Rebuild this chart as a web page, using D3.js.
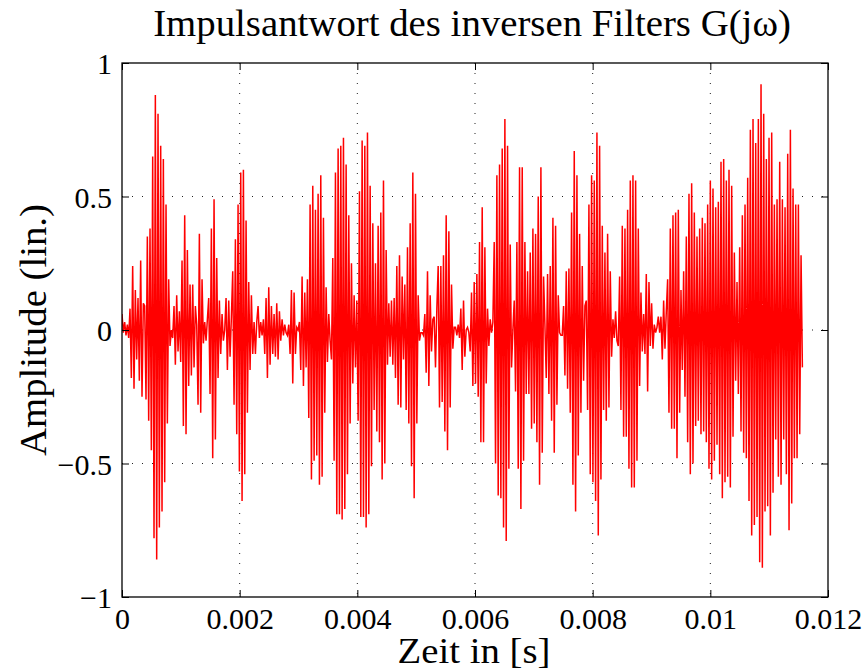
<!DOCTYPE html>
<html>
<head>
<meta charset="utf-8">
<script src="https://cdn.jsdelivr.net/npm/d3@7/dist/d3.min.js"></script>
<style>
  html, body { margin: 0; padding: 0; background: #fff; }
  svg { display: block; }
  text { font-family: "Liberation Serif", "Times New Roman", serif; fill: #000; }
</style>
</head>
<body>
<script>
// ---------------- data ----------------
const titleText = "Impulsantwort des inversen Filters G(jω)";
const xLabelText = "Zeit in [s]";
const yLabelText = "Amplitude (lin.)";
const sampleRate = 44100; // Hz
const xTicks = [0, 0.002, 0.004, 0.006, 0.008, 0.01, 0.012];
const xTickLabels = ["0", "0.002", "0.004", "0.006", "0.008", "0.01", "0.012"];
const yTicks = [-1, -0.5, 0, 0.5, 1];
const yTickLabels = ["\u22121", "\u22120.5", "0", "0.5", "1"];
// impulse response samples
const amplitude = [
  0.06, -0.01, 0.03, -0.02, 0.02, -0.03, 0.08, -0.18, 0.24, -0.22,
  0.15, -0.11, 0.12, -0.19, 0.26, -0.25, 0.10, 0.09, -0.26, 0.35,
  -0.34, 0.38, -0.45, 0.65, -0.78, 0.88, -0.86, 0.81, -0.74, 0.69,
  -0.68, 0.64, -0.57, 0.47, -0.35, 0.19, -0.06, 0.00, -0.03, 0.09,
  -0.13, 0.13, -0.08, 0.07, -0.12, 0.26, -0.36, 0.43, -0.39, 0.30,
  -0.21, 0.17, -0.17, 0.17, -0.14, 0.09, 0.02, -0.28, 0.36, -0.31,
  0.19, -0.05, 0.03, -0.04, 0.04, 0.12, -0.24, 0.38, -0.48, 0.49,
  -0.41, 0.27, -0.18, 0.11, -0.09, 0.06, -0.04, 0.00, 0.12, -0.15,
  0.11, -0.10, 0.05, 0.22, -0.28, 0.34, -0.39, 0.47, -0.53, 0.59,
  -0.64, 0.60, -0.54, 0.41, -0.31, 0.18, -0.15, 0.13, -0.09, 0.03,
  -0.09, 0.03, 0.09, -0.03, 0.03, -0.02, 0.04, -0.09, 0.12, -0.18,
  0.16, -0.13, 0.09, -0.09, 0.06, -0.10, 0.10, -0.11, 0.07, -0.04,
  0.04, -0.02, 0.02, -0.01, -0.02, 0.02, -0.09, 0.15, -0.20, 0.14, -0.09,
  0.01, 0.00, 0.03, -0.15, 0.20, -0.21, 0.14, -0.14, 0.19, -0.33,
  0.47, -0.56, 0.54, -0.49, 0.45, -0.47, 0.51, -0.58, 0.58, -0.55,
  0.42, -0.31, 0.16, -0.12, 0.06, -0.04, -0.11, 0.27, -0.49, 0.59,
  -0.69, 0.68, -0.69, 0.69, -0.71, 0.72, -0.67, 0.62, -0.54, 0.43,
  -0.35, 0.25, -0.20, 0.13, -0.14, 0.11, -0.34, 0.52, -0.70, 0.71,
  -0.70, 0.69, -0.74, 0.74, -0.69, 0.54, -0.51, 0.40, -0.30, 0.25,
  -0.38, 0.39, -0.42, 0.44, -0.56, 0.56, -0.50, 0.30, -0.13, 0.10,
  -0.10, 0.11,
  -0.13, 0.12, -0.18, 0.24, -0.28, 0.28, -0.29, 0.20, -0.11, 0.17,
  -0.30, 0.31, -0.35, 0.40, -0.51, 0.59, -0.63, 0.51, -0.35, 0.13,
  -0.04, -0.01, -0.01, -0.02, 0.06, -0.16, 0.22, -0.21, 0.13, -0.08,
  0.04, 0.05, -0.14, 0.08, 0.24, -0.29, 0.24, -0.27, 0.28, -0.38,
  0.43, -0.45, 0.37, -0.29, 0.17, -0.07, 0.01, 0.01, -0.02, 0.02,
  -0.03, 0.08, -0.15, 0.11, -0.10, 0.00, 0.01, -0.01, -0.08, 0.14,
  -0.21, 0.18, -0.20, 0.21, -0.25, 0.33, -0.42, 0.46, -0.42, 0.31,
  -0.20, 0.08, -0.06, 0.04, -0.01, 0.03, 0.33, -0.50, 0.58, -0.62,
  0.62, -0.63, 0.68, -0.74, 0.79, -0.79, 0.69, -0.52, 0.32, -0.14,
  0.00, 0.11, -0.23, 0.33, -0.52, 0.61, -0.67, 0.61, -0.49, 0.33,
  -0.24, 0.22, -0.24, 0.29, -0.37, 0.38, -0.35, 0.36, -0.42, 0.50,
  -0.58, 0.61, -0.46, 0.20, 0.02, -0.18, 0.21, -0.24, 0.24, -0.34,
  0.42, -0.46, 0.39, -0.28, 0.13, -0.01, -0.02, -0.02, 0.09, -0.17,
  0.22, -0.22, 0.23, -0.31, 0.44, -0.58, 0.67, -0.68, 0.58, -0.47,
  0.36, -0.31, 0.24, -0.19, 0.09, 0.11, -0.30, 0.47, -0.54, 0.58,
  -0.57, 0.56, -0.64, 0.74, -0.77, 0.69, -0.56, 0.39, -0.30, 0.29,
  -0.34, 0.36, -0.29, 0.22, -0.10, 0.04, -0.03, 0.07, -0.04, -0.06,
  0.20, -0.30, 0.39, -0.40, 0.38, -0.40, 0.45, -0.52, 0.56, -0.59,
  0.58, -0.59, 0.56, -0.49, 0.38, -0.21, 0.14, -0.08, 0.06, -0.09,
  0.21, -0.23, 0.18, -0.06, 0.10, -0.07, 0.02, -0.01, 0.01, 0.05, -0.01,
  0.05, -0.11, 0.11, -0.07, 0.07, 0.19, -0.31, 0.38, -0.37, 0.43,
  -0.37, 0.44, -0.48, 0.45, -0.31, 0.15, -0.15, 0.22, -0.25, 0.35,
  -0.42, 0.51, -0.54, 0.55, -0.50, 0.44, -0.36, 0.35, -0.34, 0.38,
  -0.39, 0.42, -0.38, 0.40, -0.42, 0.47, -0.52, 0.56, -0.56, 0.53,
  -0.49, 0.46, -0.43, 0.48, -0.54, 0.63, -0.63, 0.64, -0.57, 0.56,
  -0.55, 0.60, -0.59, 0.54, -0.40, 0.29, -0.19, 0.18, -0.24, 0.31,
  -0.38, 0.43, -0.46, 0.47, -0.48, 0.57, -0.64, 0.75, -0.77, 0.79,
  -0.73, 0.70, -0.70, 0.79, -0.87, 0.92, -0.89, 0.81, -0.68, 0.64,
  -0.66, 0.72, -0.77, 0.74, -0.61, 0.47, -0.41, 0.49, -0.55, 0.63,
  -0.58, 0.49, -0.41, 0.46, -0.54, 0.66, -0.75, 0.75, -0.65, 0.53,
  -0.48, 0.47, -0.48, 0.47, -0.39, 0.28, -0.14
];

// ---------------- layout ----------------
const W = 862, H = 671;
const m = { left: 122, right: 862 - 828, top: 63, bottom: 671 - 597 };
const iw = W - m.left - m.right, ih = H - m.top - m.bottom;

const svg = d3.select("body").append("svg").attr("width", W).attr("height", H);
svg.append("rect").attr("width", W).attr("height", H).attr("fill", "#fff");

const x = d3.scaleLinear().domain([0, 0.012]).range([0, iw]);
const y = d3.scaleLinear().domain([-1, 1]).range([ih, 0]);

const g = svg.append("g").attr("transform", `translate(${m.left},${m.top})`);

// grid (dotted)
const grid = g.append("g").attr("class", "grid");
grid.selectAll("line.gx").data(xTicks.slice(1, -1)).join("line")
  .attr("x1", d => x(d)).attr("x2", d => x(d)).attr("y1", 0).attr("y2", ih)
  .attr("stroke", "#222").attr("stroke-width", 1).attr("stroke-dasharray", "1,9");
grid.selectAll("line.gy").data(yTicks.slice(1, -1)).join("line")
  .attr("y1", d => y(d)).attr("y2", d => y(d)).attr("x1", 0).attr("x2", iw)
  .attr("stroke", "#222").attr("stroke-width", 1).attr("stroke-dasharray", "1,9");

// clip
svg.append("defs").append("clipPath").attr("id", "clip")
  .append("rect").attr("width", iw).attr("height", ih);

// signal
const line = d3.line().x((d, i) => x(i / sampleRate)).y(d => y(d));
g.append("path").datum(amplitude)
  .attr("clip-path", "url(#clip)")
  .attr("fill", "none").attr("stroke", "#ff0000").attr("stroke-width", 1.5)
  .attr("stroke-linejoin", "miter").attr("d", line);

// axes with inward ticks on all four sides
const tl = 7;
const fmtX = (d, i) => xTickLabels[i];
const fmtY = (d, i) => yTickLabels[i];
const axB = g.append("g").attr("transform", `translate(0,${ih})`)
  .call(d3.axisBottom(x).tickValues(xTicks).tickFormat(fmtX).tickSizeInner(-tl).tickSizeOuter(0).tickPadding(11));
const axT = g.append("g")
  .call(d3.axisTop(x).tickValues(xTicks).tickFormat("").tickSizeInner(-tl).tickSizeOuter(0));
const axL = g.append("g")
  .call(d3.axisLeft(y).tickValues(yTicks).tickFormat(fmtY).tickSizeInner(-tl).tickSizeOuter(0).tickPadding(10));
const axR = g.append("g").attr("transform", `translate(${iw},0)`)
  .call(d3.axisRight(y).tickValues(yTicks).tickFormat("").tickSizeInner(-tl).tickSizeOuter(0));
[axB, axT, axL, axR].forEach(a => {
  a.select(".domain").remove();
  a.selectAll(".tick line").attr("stroke", "#000").attr("stroke-width", 1);
  a.selectAll("text").style("font-family", "'Liberation Serif', 'Times New Roman', serif")
    .style("font-size", "30px").attr("fill", "#000");
});
axB.selectAll("text").attr("dy", "0.71em");
axL.selectAll("text").attr("dy", "0.35em");

// box
g.append("rect").attr("width", iw).attr("height", ih)
  .attr("fill", "none").attr("stroke", "#000").attr("stroke-width", 1.3);

// title and labels, horizontally fitted to the reference text extents
function fitText(sel, targetLen) {
  const len = sel.node().getComputedTextLength();
  return targetLen / len;
}
const title = svg.append("text").attr("text-anchor", "middle")
  .style("font-size", "37px").text(titleText);
const sT = fitText(title, 638);
title.attr("transform", `translate(472,36) scale(${sT},1)`);

const xl = svg.append("text").attr("text-anchor", "middle")
  .style("font-size", "35px").text(xLabelText);
const sX = fitText(xl, 153);
xl.attr("transform", `translate(474,663) scale(${sX},1)`);

const yl = svg.append("text").attr("text-anchor", "middle")
  .style("font-size", "38px").text(yLabelText);
const sY = fitText(yl, 252);
yl.attr("transform", `translate(46,330) rotate(-90) scale(${sY},1)`);
</script>
</body>
</html>
